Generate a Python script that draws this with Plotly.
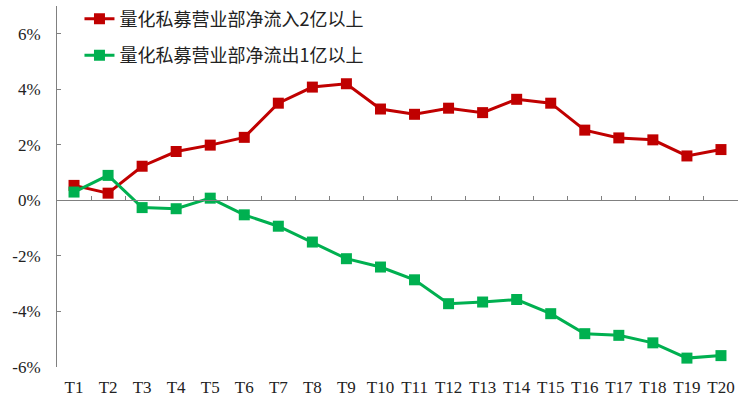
import plotly.graph_objects as go

categories = [f"T{i}" for i in range(1, 21)]
inflow_name = "量化私募营业部净流入2亿以上"
outflow_name = "量化私募营业部净流出1亿以上"
inflow = [0.54, 0.26, 1.23, 1.76, 1.99, 2.27, 3.50, 4.08, 4.20, 3.29,
          3.10, 3.32, 3.16, 3.64, 3.50, 2.53, 2.25, 2.18, 1.60, 1.83]
outflow = [0.30, 0.90, -0.26, -0.30, 0.08, -0.52, -0.93, -1.50, -2.10, -2.40,
           -2.86, -3.72, -3.66, -3.57, -4.08, -4.80, -4.86, -5.13, -5.68, -5.59]
y_ticks = [-6, -4, -2, 0, 2, 4, 6]

RED = "#C00000"
GREEN = "#00B050"
AXIS = "#808080"

fig = go.Figure()
fig.add_trace(go.Scatter(
    x=categories, y=inflow, name=inflow_name, mode="lines+markers",
    line=dict(color=RED, width=3), marker=dict(symbol="square", size=11, color=RED),
    legendgroup="a"))
fig.add_trace(go.Scatter(
    x=categories, y=outflow, name=outflow_name, mode="lines+markers",
    line=dict(color=GREEN, width=3), marker=dict(symbol="square", size=11, color=GREEN),
    legendgroup="b"))
# invisible trace to host the zero-positioned axis
fig.add_trace(go.Scatter(
    x=categories, y=[None] * len(categories), xaxis="x2", yaxis="y",
    showlegend=False, hoverinfo="skip", mode="lines"))

ymin, ymax = -6, 7
fig.update_layout(
    width=744, height=399,
    margin=dict(l=57, r=6, t=6, b=32, autoexpand=False),
    paper_bgcolor="white", plot_bgcolor="white",
    showlegend=True,
    legend=dict(x=0.033, y=1.015, xanchor="left", yanchor="top",
                font=dict(family="Noto Sans CJK SC", size=18, color="#222222"),
                bgcolor="rgba(0,0,0,0)", tracegroupgap=10, traceorder="grouped"),
    xaxis=dict(type="category", categoryorder="array", categoryarray=categories,
               range=[-0.5, 19.5], showline=False, showgrid=False, zeroline=False,
               automargin=False,
               ticks="", tickfont=dict(family="Liberation Serif", size=17, color="#222222"),
               ticklabelstandoff=8),
    xaxis2=dict(type="category", categoryorder="array", categoryarray=categories,
                range=[-0.5, 19.5], overlaying="x", anchor="free",
                position=(0 - ymin) / (ymax - ymin), automargin=False,
                showline=True, linecolor=AXIS, linewidth=1,
                ticks="inside", tickson="boundaries", ticklen=4, tickcolor=AXIS,
                showticklabels=False, showgrid=False, zeroline=False),
    yaxis=dict(range=[ymin, ymax], tickvals=y_ticks, ticktext=[f"{v}%" for v in y_ticks],
               showline=True, linecolor=AXIS, linewidth=1, automargin=False,
               ticks="inside", ticklen=4, tickcolor=AXIS,
               showgrid=False, zeroline=False,
               tickfont=dict(family="Liberation Serif", size=17, color="#222222"),
               ticklabelstandoff=12),
)

fig.write_html("out.html", config={"displayModeBar": False},
               post_script="document.body.style.margin='0';")
